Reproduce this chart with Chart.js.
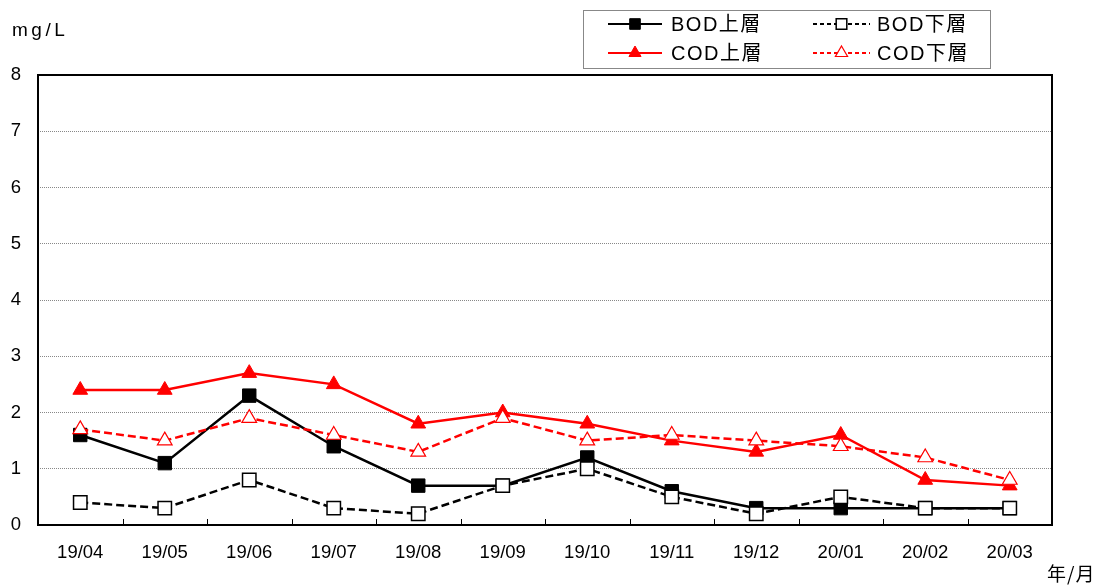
<!DOCTYPE html>
<html><head><meta charset="utf-8">
<script src="https://cdn.jsdelivr.net/npm/chart.js@4.4.1/dist/chart.umd.min.js"></script>
<style>html,body{margin:0;padding:0;background:#fff}#wrap{position:relative;width:1118px;height:586px}</style>
</head><body><div id="wrap"><canvas id="c" width="1118" height="586"></canvas></div>
<script>
const categories = ['19/04','19/05','19/06','19/07','19/08','19/09','19/10','19/11','19/12','20/01','20/02','20/03'];
const bodUpper = [1.6, 1.1, 2.3, 1.4, 0.7, 0.7, 1.2, 0.6, 0.3, 0.3, 0.3, 0.3];
const bodLower = [0.4, 0.3, 0.8, 0.3, 0.2, 0.7, 1.0, 0.5, 0.2, 0.5, 0.3, 0.3];
const codUpper = [2.4, 2.4, 2.7, 2.5, 1.8, 2.0, 1.8, 1.5, 1.3, 1.6, 0.8, 0.7];
const codLower = [1.7, 1.5, 1.9, 1.6, 1.3, 1.9, 1.5, 1.6, 1.5, 1.4, 1.2, 0.8];
const seriesNames = ['BOD上層','BOD下層','COD上層','COD下層'];
const yTicks = [0,1,2,3,4,5,6,7,8];
const yUnit = 'mg/L';
const xUnit = '年/月';

const FONT = "'Liberation Sans', 'Noto Sans CJK JP', sans-serif";
const DASH = [8,4];
const datasets = [
  {label: seriesNames[0], data: bodUpper, borderColor:'#000', backgroundColor:'#000', borderWidth:2.5,
   pointStyle:'rect', pointRadius:9.5, pointBorderWidth:1, pointBorderColor:'#000', pointBackgroundColor:'#000', order:4},
  {label: seriesNames[1], data: bodLower, borderColor:'#000', backgroundColor:'#fff', borderWidth:2.5, borderDash:DASH,
   pointStyle:'rect', pointRadius:9.5, pointBorderWidth:1.5, pointBorderColor:'#000', pointBackgroundColor:'#fff', order:3},
  {label: seriesNames[2], data: codUpper, borderColor:'#ff0000', backgroundColor:'#ff0000', borderWidth:2.5,
   pointStyle:'triangle', pointRadius:8.5, pointBorderWidth:1, pointBorderColor:'#ff0000', pointBackgroundColor:'#ff0000', order:2},
  {label: seriesNames[3], data: codLower, borderColor:'#ff0000', backgroundColor:'#fff', borderWidth:2.5, borderDash:DASH,
   pointStyle:'triangle', pointRadius:8.5, pointBorderWidth:1.2, pointBorderColor:'#ff0000', pointBackgroundColor:'#fff', order:1}
];

const canvas = document.getElementById('c');
const ctx0 = canvas.getContext('2d');
ctx0.letterSpacing = '1px';

const extras = {
  id:'extras',
  afterDraw(chart){
    const {ctx, chartArea:a, scales} = chart;
    const x = scales.x;
    ctx.save();
    ctx.strokeStyle = '#000'; ctx.lineWidth = 1;
    for (let i=1;i<categories.length;i++){
      const px = Math.round((x.getPixelForValue(i-1)+x.getPixelForValue(i))/2)+0.5;
      ctx.beginPath(); ctx.moveTo(px, a.bottom); ctx.lineTo(px, a.bottom-6); ctx.stroke();
    }
    ctx.lineWidth = 2; ctx.strokeStyle='#000';
    ctx.strokeRect(a.left, a.top, a.right-a.left, a.bottom-a.top);
    ctx.fillStyle='#000'; ctx.textBaseline='middle'; ctx.textAlign='left';
    ctx.letterSpacing = '3.5px';
    ctx.font = "19px "+FONT;
    ctx.fillText(yUnit, 12, 31);
    ctx.letterSpacing = '1px';
    ctx.font = "19px 'Noto Sans CJK JP', sans-serif";
    ctx.fillText(xUnit, 1047, 574);
    const lx=583, ly=10, lw=407, lh=58;
    ctx.lineWidth=1; ctx.strokeStyle='#888';
    ctx.strokeRect(lx+0.5, ly+0.5, lw, lh);
    const items = [
      {ds:0, x1:608, x2:662, y:24, tx:671},
      {ds:1, x1:813, x2:870, y:24, tx:877},
      {ds:2, x1:608, x2:662, y:53, tx:671},
      {ds:3, x1:813, x2:870, y:53, tx:877}
    ];
    items.forEach(it=>{
      const d = datasets[it.ds];
      ctx.save();
      ctx.strokeStyle=d.borderColor; ctx.lineWidth=2;
      ctx.setLineDash(d.borderDash ? [4,3] : []);
      ctx.beginPath(); ctx.moveTo(it.x1, it.y); ctx.lineTo(it.x2, it.y); ctx.stroke();
      ctx.setLineDash([]);
      ctx.fillStyle=d.pointBackgroundColor; ctx.strokeStyle=d.pointBorderColor; ctx.lineWidth=d.pointBorderWidth;
      Chart.helpers.drawPoint(ctx, {pointStyle:d.pointStyle, radius:d.pointStyle==='rect'?7.5:7, borderWidth:d.pointBorderWidth, rotation:0}, (it.x1+it.x2)/2, it.y);
      ctx.restore();
      ctx.fillStyle='#000'; ctx.textAlign='left'; ctx.textBaseline='middle';
      ctx.font="20px "+FONT; ctx.letterSpacing='1.5px';
      ctx.fillText(d.label, it.tx, it.y+1);
    });
    ctx.restore();
  }
};

new Chart(canvas, {
  type:'line',
  data:{labels:categories, datasets},
  options:{
    responsive:false, animation:false,
    layout:{padding:{top:75, right:66, left:0, bottom:0}},
    plugins:{legend:{display:false}, tooltip:{enabled:false}},
    elements:{line:{tension:0}},
    scales:{
      x:{
        offset:true,
        grid:{display:false, drawTicks:false},
        border:{display:false},
        ticks:{color:'#000', font:{family:FONT, size:18.5}, padding:17, maxRotation:0, autoSkip:false},
        afterFit(s){ s.height = 61; }
      },
      y:{
        min:0, max:8,
        afterBuildTicks(s){ s.ticks = yTicks.map(v=>({value:v})); },
        grid:{color:'#888', lineWidth:1, drawTicks:false},
        border:{display:false, dash:[1,1]},
        ticks:{color:'#000', font:{family:FONT, size:18.5}, padding:17},
        afterFit(s){ s.width = 38; }
      }
    }
  },
  plugins:[extras]
});
</script></body></html>
